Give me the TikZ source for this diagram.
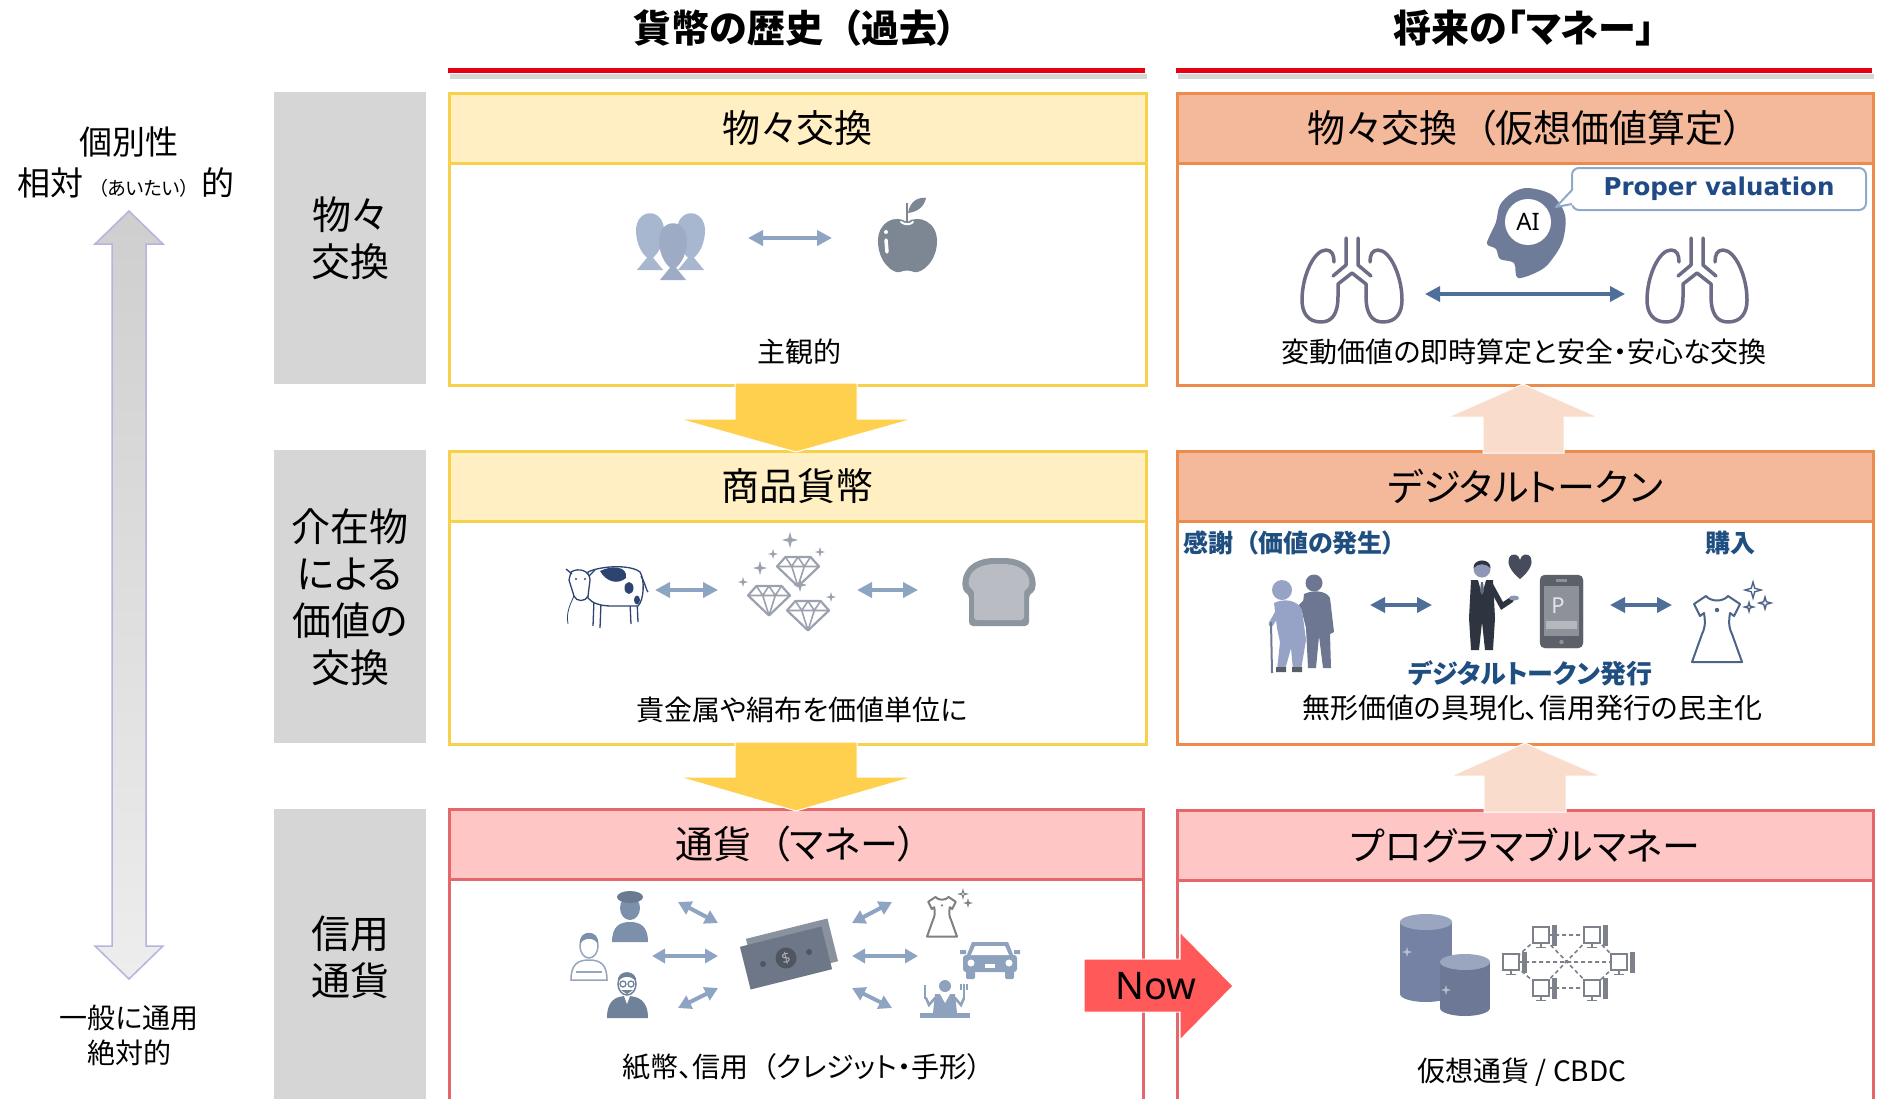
\documentclass[tikz,border=0pt]{standalone}
\usepackage{fontspec}
\setmainfont{Noto Sans CJK JP}[RawFeature=+palt]
\newfontfamily\latinfnt{Noto Sans}
\newfontfamily\dvs{DejaVu Sans}
\usetikzlibrary{arrows.meta,calc}

\newcommand\fsz[1]{\fontsize{#1}{#1}\selectfont}
\newcommand\jlp{\hspace{.5em}（}
\newcommand\jrp{）\hspace{.5em}}

\definecolor{ttlred}{HTML}{E50012}
\definecolor{ylwfill}{HTML}{FFEFC2}
\definecolor{ylwline}{HTML}{F8D14C}
\definecolor{orgfill}{HTML}{F4B99B}
\definecolor{orgline}{HTML}{EC8B4B}
\definecolor{pnkfill}{HTML}{FFC6C6}
\definecolor{pnkline}{HTML}{E4676A}
\definecolor{grybox}{HTML}{D6D6D6}
\definecolor{ylwarr}{HTML}{FFD04E}
\definecolor{pcharr}{HTML}{F9DCCB}
\definecolor{nowred}{HTML}{FF5959}
\definecolor{lblblue}{HTML}{1F4E80}
\definecolor{icnblue}{HTML}{8EA4C3}
\definecolor{arrblue}{HTML}{4E6F99}
\definecolor{fishc}{HTML}{A7B7D0}
\definecolor{applec}{HTML}{7D8794}
\definecolor{headc}{HTML}{6F7C99}
\definecolor{lungc}{HTML}{6C6C86}
\definecolor{calline}{HTML}{8FA9C9}
\definecolor{pvblue}{HTML}{1F4A85}
\definecolor{cowline}{HTML}{2E4470}
\definecolor{diac}{HTML}{9BA1AE}
\definecolor{breado}{HTML}{8D959F}
\definecolor{breadi}{HTML}{B9BDC3}
\definecolor{helpc}{HTML}{6D7791}
\definecolor{oldc}{HTML}{97A3C6}
\definecolor{suitc}{HTML}{2F3540}
\definecolor{skinc}{HTML}{8E98B6}
\definecolor{heartc}{HTML}{464C5B}
\definecolor{phonec}{HTML}{5C6068}
\definecolor{screenc}{HTML}{8D929A}
\definecolor{dressc}{HTML}{4D6487}
\definecolor{peoplec}{HTML}{7C8FAB}
\definecolor{notec}{HTML}{6E7787}
\definecolor{carc}{HTML}{8EA1BD}
\definecolor{coinc}{HTML}{7682A3}
\definecolor{cointop}{HTML}{9AA5C0}
\definecolor{pcline}{HTML}{7D818A}
\definecolor{axisedge}{HTML}{B4B4DE}

\tikzset{
  colbox/.style={draw, line width=2.5pt, fill=white, anchor=north west, inner sep=0pt, minimum width=697pt},
  hdrbox/.style={draw, line width=2.5pt, anchor=north west, inner sep=0pt, minimum width=697pt, minimum height=70pt, font=\fsz{38}},
  sidebox/.style={fill=grybox, anchor=north west, minimum width=152pt, inner sep=0pt},
  sidetxt/.style={font=\fontsize{39}{47}\selectfont, align=center, inner sep=0pt},
  bodytxt/.style={font=\fsz{28}, inner sep=0pt},
  lbltxt/.style={font=\bfseries\fsz{25}, text=lblblue, inner sep=0pt},
  ttltxt/.style={font=\bfseries\fsz{38}, inner sep=0pt},
  sidelbl/.style={font=\fsz{33}, inner sep=0pt},
  xchg/.style={{Triangle[length=15pt,width=15pt]}-{Triangle[length=15pt,width=15pt]}, line width=4pt, draw=icnblue},
  xchgsm/.style={{Triangle[length=13pt,width=14pt]}-{Triangle[length=13pt,width=14pt]}, line width=4pt, draw=icnblue},
  xchgdark/.style={{Triangle[length=15pt,width=15pt]}-{Triangle[length=15pt,width=15pt]}, line width=3.5pt, draw=arrblue},
  fatarrow/.style={draw=white, line width=1pt},
  pcmon/.style={draw=pcline, fill=white, line width=1.2pt, minimum width=16pt, minimum height=16pt, inner sep=0pt},
}

% four-point sparkle: x, y, size, path options
\newcommand\sparkstar[4]{%
  \begin{scope}[shift={(#1,#2)}, scale=#3]
    \path[#4] (0,-1) -- (0.22,-0.22) -- (1,0) -- (0.22,0.22) -- (0,1) -- (-0.22,0.22) -- (-1,0) -- (-0.22,-0.22) -- cycle;
  \end{scope}}

% upright fish silhouette: centre x, top y, colour
\newcommand\fishat[3]{%
  \begin{scope}[shift={(#1,#2)}]
    \fill[#3] (-14,22) .. controls (-15,-3) and (15,-3) .. (14,22) .. controls (13,38) and (6,46) .. (0,50) .. controls (-6,46) and (-13,38) .. (-14,22) -- cycle;
    \fill[#3] (0,44) -- (-13,60) -- (13,60) -- cycle;
  \end{scope}}

% cut gem: centre x, top y, half width
\newcommand\gem[3]{%
  \begin{scope}[shift={(#1,#2)}, scale=#3]
    \filldraw[fill=white, draw=diac, line width=2.2pt, line join=round] (-0.6,0) -- (0.6,0) -- (1,0.45) -- (0,1.4) -- (-1,0.45) -- cycle;
    \draw[diac, line width=1.6pt, line join=round] (-1,0.45) -- (1,0.45) (-0.6,0) -- (-0.3,0.45) -- (0,0) -- (0.3,0.45) -- (0.6,0) (-0.3,0.45) -- (0,1.4) -- (0.3,0.45);
  \end{scope}}

% dress outline: neck x, neck y, scale, colour
\newcommand\dressat[4]{%
  \begin{scope}[shift={(#1,#2)}, scale=#3]
    \filldraw[fill=white, draw=#4, line width=2pt, line join=round] (-11,0) .. controls (-6,6) and (6,6) .. (11,0) -- (23,8) -- (17,20) -- (13,17) .. controls (11,29) and (13,34) .. (15,38) -- (25,66) -- (-25,66) -- (-15,38) .. controls (-13,34) and (-11,29) .. (-13,17) -- (-17,20) -- (-23,8) -- cycle;
    \fill[#4] (0,14) circle (2.2);
  \end{scope}}

% pair of lungs: trachea top centre
\newcommand\lungs[2]{%
  \begin{scope}[shift={(#1,#2)}, color=lungc, line width=3.5pt, line cap=round, line join=round]
    \draw (-6,0) -- (-6,27) -- (-19,38);
    \draw (6,0) -- (6,27) -- (19,38);
    \draw (-14,58) -- (-14,46) -- (0,35) -- (14,46) -- (14,58);
    \draw (-14,58) .. controls (-14,76) and (-20,84) .. (-31,84) .. controls (-44,84) and (-50,75) .. (-50,62) .. controls (-50,38) and (-38,12) .. (-26,12) .. controls (-20,12) and (-18,17) .. (-18,24);
    \draw (14,58) .. controls (14,76) and (20,84) .. (31,84) .. controls (44,84) and (50,75) .. (50,62) .. controls (50,38) and (38,12) .. (26,12) .. controls (20,12) and (18,17) .. (18,24);
  \end{scope}}

% networked computer: name, x, y
\newcommand\pcat[3]{%
  \node[pcmon] (#1) at (#2,#3) {};
  \fill[pcline] ($(#1.north east)+(2,-1)$) rectangle ++(5,21);
  \draw[pcline, line width=1.2pt] (#1.south) -- ++(0,4) ++(-5,0) -- ++(10,0);}

\begin{document}
\begin{tikzpicture}[x=1pt,y=-1pt]
\path[use as bounding box, fill=white] (0,0) rectangle (1881,1098);
\clip (0,0) rectangle (1881,1098);

% ---- column titles ----
\node[ttltxt] (ttlL) at (795,28) {貨幣の歴史\jlp 過去\jrp};
\node[ttltxt] (ttlR) at (1524,28) {将来の「マネー」};
\draw[line width=5pt, black!16] (450,76) -- (1147,76);
\draw[line width=5pt, black!16] (1178,76) -- (1874,76);
\draw[line width=5pt, ttlred] (448,70) -- (1145,70);
\draw[line width=5pt, ttlred] (1176,70) -- (1872,70);

% ---- vertical axis ----
\shadedraw[top color=black!19, bottom color=black!7, draw=axisedge, line width=1.5pt]
  (129,211) -- (163,244) -- (146,244) -- (146,946) -- (163,946) -- (129,979) -- (95,946) -- (112,946) -- (112,244) -- (95,244) -- cycle;
\node[sidelbl] (indiv) at (129,142) {個別性};
\node[sidelbl] (relat) at (126,183) {相対\hspace{5pt}{\fsz{19}\jlp あいたい\jrp}\hspace{2pt}的};
\node[font=\fsz{28}, inner sep=0pt] (general) at (129,1018) {一般に通用};
\node[font=\fsz{28}, inner sep=0pt] (absol) at (129,1053) {絶対的};

% ---- stage labels ----
\node[sidebox, minimum height=292pt] (S1) at (274,92) {};
\node[sidebox, minimum height=293pt] (S2) at (274,450) {};
\node[sidebox, minimum height=300pt] (S3) at (274,809) {};
\node[sidetxt] (S1t) at (350,238) {物々\\交換};
\node[sidetxt] (S2t) at (350,597) {介在物\\による\\価値の\\交換};
\node[sidetxt] (S3t) at (350,957) {信用\\通貨};

% ---- history column ----
\node[colbox, draw=ylwline, minimum height=292pt] (L1) at (448,92) {};
\node[hdrbox, draw=ylwline, fill=ylwfill] (L1h) at (448,92) {物々交換};
\node[colbox, draw=ylwline, minimum height=293pt] (L2) at (448,450) {};
\node[hdrbox, draw=ylwline, fill=ylwfill] (L2h) at (448,450) {商品貨幣};
\node[colbox, draw=pnkline, minimum width=694pt, minimum height=320pt] (L3) at (448,808) {};
\node[hdrbox, draw=pnkline, fill=pnkfill, minimum width=694pt] (L3h) at (448,808) {通貨\jlp マネー\jrp};

% ---- future column ----
\node[colbox, draw=orgline, minimum width=696pt, minimum height=292pt] (R1) at (1176,92) {};
\node[hdrbox, draw=orgline, fill=orgfill, minimum width=696pt] (R1h) at (1176,92) {物々交換\jlp 仮想価値算定\jrp};
\node[colbox, draw=orgline, minimum width=696pt, minimum height=293pt] (R2) at (1176,450) {};
\node[hdrbox, draw=orgline, fill=orgfill, minimum width=696pt] (R2h) at (1176,450) {デジタルトークン};
\node[colbox, draw=pnkline, minimum width=696pt, minimum height=320pt] (R3) at (1176,809) {};
\node[hdrbox, draw=pnkline, fill=pnkfill, minimum width=696pt] (R3h) at (1176,809) {プログラマブルマネー};

% ---- captions ----
\node[bodytxt] (L1b) at (799,352) {主観的};
\node[bodytxt] (R1b) at (1524,352) {変動価値の即時算定と安全・安心な交換};
\node[bodytxt] (L2b) at (802,710) {貴金属や絹布を価値単位に};
\node[bodytxt] (R2b) at (1532,708) {無形価値の具現化、信用発行の民主化};
\node[bodytxt] (L3b) at (802,1067) {紙幣、信用\jlp クレジット・手形\jrp};
\node[bodytxt] (R3b) at (1522,1072) {仮想通貨 / CBDC};

% ---- flow arrows ----
\filldraw[fill=ylwarr, fatarrow] (735,383) -- (857,383) -- (857,419) -- (913,419) -- (796,452) -- (679,419) -- (735,419) -- cycle;
\filldraw[fill=ylwarr, fatarrow] (735,742) -- (857,742) -- (857,777) -- (913,777) -- (796,811) -- (679,777) -- (735,777) -- cycle;
\filldraw[fill=pcharr, fatarrow] (1483,453) -- (1483,417) -- (1448,417) -- (1523,384) -- (1598,417) -- (1564,417) -- (1564,453) -- cycle;
\filldraw[fill=pcharr, fatarrow] (1484,812) -- (1484,776) -- (1451,776) -- (1525,743) -- (1601,776) -- (1566,776) -- (1566,812) -- cycle;

% ---- Now marker ----
\filldraw[fill=nowred, draw=white, line width=1pt] (1084,959) -- (1180,959) -- (1180,932) -- (1233,986) -- (1180,1040) -- (1180,1012) -- (1084,1012) -- cycle;
\node[font=\latinfnt\fsz{38}, inner sep=0pt] (now) at (1156,986) {Now};

% ==== row 1, history: fish <-> apple ====
\fishat{650}{210}{fishc}
\fishat{691}{210}{fishc}
\fishat{673}{220}{fishc!94!black}
\coordinate (x1a) at (748,238);
\coordinate (x1b) at (832,238);
\draw[xchg] (x1a) -- (x1b);
\fill[applec] (907,222) .. controls (895,214) and (878,222) .. (878,241) .. controls (878,262) and (893,274) .. (900,272) .. controls (905,270) and (909,270) .. (914,272) .. controls (921,274) and (937,262) .. (937,241) .. controls (937,222) and (919,214) .. (907,222) -- cycle;
\draw[applec, line width=2.5pt] (907,222) -- (907,203);
\fill[applec] (908,213) .. controls (910,201) and (918,197) .. (926,198) .. controls (924,208) and (916,212) .. (908,213) -- cycle;
\draw[white, line width=2pt, line cap=round] (901,222) .. controls (905,225) and (910,225) .. (913,222);
\draw[white, line width=3.5pt, line cap=round] (886,240) -- (887,252);
\fill[white] (886,232) circle (2);

% ==== row 1, future: AI valuation ====
\fill[headc] plot[smooth cycle, tension=.55] coordinates {(1528,188) (1552,195) (1565,215) (1563,240) (1553,258) (1541,270) (1518,278) (1514,263) (1500,259) (1496,249) (1487,244) (1491,233) (1496,222) (1500,205) (1512,193)};
\node[circle, fill=white, minimum size=46pt, inner sep=0pt, font=\latinfnt\fsz{24}] (ai) at (1528,222) {AI};
\node[draw=calline, line width=2pt, fill=white, rounded corners=7pt, minimum width=294pt, minimum height=42pt, inner sep=0pt, font=\dvs\bfseries\fsz{24.5}, text=pvblue] (pv) at (1719,189) {Proper valuation};
\fill[white] (1574,189) -- (1556,207) -- (1574,205) -- cycle;
\draw[calline, line width=2pt, line join=round] (1572,190) -- (1556,207) -- (1572,204);
\lungs{1352}{238}
\lungs{1697}{238}
\coordinate (x2a) at (1425,294);
\coordinate (x2b) at (1625,294);
\draw[xchgdark] (x2a) -- (x2b);

% ==== row 2, history: cow <-> gems <-> bread ====
\draw[cowline, line width=1.3pt] (594,600) -- (593,626) (601,603) -- (600,628) (630,603) -- (631,624) (637,600) -- (638,622);
\filldraw[fill=white, draw=cowline, line width=1.3pt] (588,572) .. controls (600,566) and (630,564) .. (640,572) .. controls (645,580) and (644,600) .. (638,606) -- (612,606) .. controls (600,606) and (592,603) .. (588,598) -- cycle;
\fill[cowline] (600,571) .. controls (612,565) and (628,566) .. (626,578) .. controls (618,585) and (606,582) .. (600,571) -- cycle;
\fill[cowline] (629,588) ellipse (4.5 and 6);
\fill[cowline] (637,600) ellipse (3 and 4.5);
\filldraw[fill=white, draw=cowline, line width=1.3pt] (571,572) .. controls (579,567) and (590,571) .. (590,580) -- (588,596) .. controls (586,602) and (576,602) .. (574,596) -- (569,580) -- cycle;
\draw[cowline, line width=1.3pt] (572,574) -- (566,569) (589,576) -- (595,570);
\fill[cowline] (576,579) circle (1.2) (585,579) circle (1.2);
\draw[cowline, line width=.8pt] (574,596) .. controls (570,605) and (566,612) .. (568,624);
\draw[cowline, line width=1.3pt] (641,576) .. controls (646,585) and (646,590) .. (648,592);
\coordinate (x3a) at (655,590);
\coordinate (x3b) at (718,590);
\draw[xchg] (x3a) -- (x3b);
\gem{798}{557}{21}
\gem{769}{586}{21}
\gem{808}{601}{21}
\sparkstar{790}{540}{8}{fill=diac}
\sparkstar{773}{554}{5}{fill=diac}
\sparkstar{820}{552}{5}{fill=diac}
\sparkstar{760}{568}{7}{fill=diac}
\sparkstar{743}{582}{5}{fill=diac}
\sparkstar{800}{585}{7}{fill=diac}
\sparkstar{831}{597}{5}{fill=diac}
\coordinate (x4a) at (857,590);
\coordinate (x4b) at (918,590);
\draw[xchg] (x4a) -- (x4b);
\fill[breado, rounded corners=4pt] (969,626) -- (969,594) .. controls (960,590) and (958,558) .. (999,558) .. controls (1040,558) and (1038,590) .. (1029,594) -- (1029,626) -- cycle;
\fill[breadi, rounded corners=3pt] (974,620) -- (974,590) .. controls (966,586) and (966,564) .. (999,564) .. controls (1032,564) and (1032,586) .. (1024,590) -- (1024,620) -- cycle;

% ==== row 2, future: thanks -> token -> purchase ====
\node[lbltxt, anchor=west] (thanks) at (1183,543) {感謝\jlp 価値の発生\jrp};
\node[lbltxt] (buy) at (1730,543) {購入};
\node[lbltxt, font=\bfseries\fsz{26}] (issue) at (1530,673) {デジタルトークン発行};
% helper and elderly person
\fill[helpc] (1314,583) circle (8.5);
\fill[helpc] (1304,594) .. controls (1312,590) and (1326,590) .. (1330,598) -- (1334,632) -- (1330,634) -- (1331,668) -- (1323,668) -- (1319,636) -- (1316,668) -- (1308,668) -- (1306,628) -- (1302,612) -- cycle;
\draw[helpc, line width=6pt, line cap=round] (1308,600) -- (1296,612);
\fill[oldc] (1282,590) circle (10);
\fill[oldc] (1274,603) .. controls (1284,598) and (1298,600) .. (1302,610) -- (1306,640) -- (1301,670) -- (1293,670) -- (1291,648) -- (1285,670) -- (1277,670) -- (1280,642) -- (1277,628) -- cycle;
\draw[oldc, line width=5pt, line cap=round] (1279,610) -- (1271,624);
\draw[oldc!75!black, line width=2pt] (1271,622) -- (1272,673);
\fill[suitc!80] (1276,667) rectangle (1286,672) (1292,667) rectangle (1302,672);
\coordinate (x5a) at (1370,605);
\coordinate (x5b) at (1432,605);
\draw[xchgdark] (x5a) -- (x5b);
% businessman with heart
\fill[skinc] (1482,569) circle (8.5);
\fill[suitc] (1473.5,568) .. controls (1473,558) and (1491,558) .. (1490.5,568) .. controls (1486,563) and (1478,563) .. (1473.5,568) -- cycle;
\fill[suitc] (1471,580) -- (1493,580) -- (1495,618) -- (1493,650) -- (1485,650) -- (1482,622) -- (1479,650) -- (1471,650) -- (1469,618) -- cycle;
\fill[white] (1478,580) -- (1486,580) -- (1482,594) -- cycle;
\fill[skinc!70!black] (1481,582) -- (1483,582) -- (1484,591) -- (1482,595) -- (1480,591) -- cycle;
\draw[suitc, line width=5.5pt, line cap=round] (1491,586) -- (1502,606) -- (1511,600);
\fill[skinc] (1514,598) ellipse (5 and 2.5);
\fill[heartc] (1520,579) .. controls (1510,571) and (1507,563) .. (1509,558) .. controls (1512,552) and (1519,554) .. (1520,560) .. controls (1521,554) and (1528,552) .. (1531,558) .. controls (1533,563) and (1530,571) .. (1520,579) -- cycle;
% phone
\filldraw[fill=phonec, draw=phonec, rounded corners=5pt] (1540,575) rectangle (1583,648);
\fill[screenc] (1544,586) rectangle (1579,636);
\fill[screenc] (1556,579) rectangle (1567,581.5);
\fill[screenc] (1561.5,642) circle (2.2);
\node[font=\latinfnt\bfseries\fsz{22}, text=white!75!screenc, inner sep=0pt] (pt) at (1558,606) {P};
\fill[white!35!screenc] (1546,621) rectangle (1577,629);
\coordinate (x6a) at (1610,605);
\coordinate (x6b) at (1672,605);
\draw[xchgdark] (x6a) -- (x6b);
\dressat{1717}{596}{1}{dressc}
\sparkstar{1753}{590}{8}{draw=dressc, line width=1.4pt, fill=white}
\sparkstar{1765}{603}{6}{draw=dressc, line width=1.4pt, fill=white}
\sparkstar{1749}{607}{4.5}{draw=dressc, line width=1.4pt, fill=white}

% ==== row 3, history: people <-> banknote <-> goods ====
\fill[peoplec] (612,942) .. controls (612,926) and (620,922) .. (630,922) .. controls (640,922) and (648,926) .. (648,942) -- cycle;
\fill[peoplec] (630,908) ellipse (10 and 12);
\fill[peoplec!85!black] (630,897) ellipse (13 and 6);
\filldraw[fill=white, draw=peoplec!80, line width=1.5pt] (571,980) .. controls (571,964) and (578,960) .. (589,960) .. controls (600,960) and (607,964) .. (607,980) -- cycle;
\draw[peoplec!80, line width=1.2pt] (576,972) -- (602,972);
\filldraw[fill=white, draw=peoplec!80, line width=1.5pt] (589,946) ellipse (9 and 12);
\fill[peoplec] (580,944) .. controls (578,929) and (600,929) .. (598,944) .. controls (594,937) and (584,937) .. (580,944) -- cycle;
\fill[peoplec!90!black] (607,1018) .. controls (607,1000) and (616,996) .. (627,996) .. controls (638,996) and (648,1000) .. (648,1018) -- cycle;
\fill[white] (624,996) -- (630,996) -- (627,1004) -- cycle;
\filldraw[fill=white, draw=peoplec!90!black, line width=1.5pt] (627,984) ellipse (9 and 11);
\fill[peoplec!90!black] (618,982) .. controls (616,969) and (638,969) .. (636,982) .. controls (632,975) and (622,975) .. (618,982) -- cycle;
\draw[peoplec!90!black, line width=1.3pt] (623,984) circle (3) (631,984) circle (3);
\fill[peoplec!90!black] (621,990) -- (633,990) -- (627,994) -- cycle;
\coordinate (p1) at (678,902);
\coordinate (p2) at (718,923);
\coordinate (p3) at (652,956);
\coordinate (p4) at (718,956);
\coordinate (p5) at (678,1008);
\coordinate (p6) at (718,988);
\draw[xchgsm] (p1) -- (p2);
\draw[xchgsm] (p3) -- (p4);
\draw[xchgsm] (p5) -- (p6);
\node[fill=notec!80!white, minimum width=84pt, minimum height=44pt, rotate=14, inner sep=0pt] (note2) at (792,950) {};
\node[fill=notec, minimum width=84pt, minimum height=44pt, rotate=14, inner sep=0pt] (note) at (786,958) {};
\fill[notec!72!black] (786,958) circle (10.5);
\node[font=\latinfnt\bfseries\fsz{15}, text=notec!60!white, inner sep=0pt, rotate=14] (dollar) at (786,958) {\$};
\fill[notec!72!black] (763,964) circle (3) (809,952) circle (3);
\coordinate (q1) at (852,923);
\coordinate (q2) at (892,902);
\coordinate (q3) at (852,956);
\coordinate (q4) at (918,956);
\coordinate (q5) at (852,988);
\coordinate (q6) at (892,1008);
\draw[xchgsm] (q1) -- (q2);
\draw[xchgsm] (q3) -- (q4);
\draw[xchgsm] (q5) -- (q6);
\dressat{942}{897}{0.6}{gray}
\sparkstar{963}{894}{4}{draw=gray, line width=1pt}
\sparkstar{968}{903}{3}{draw=gray, line width=1pt}
% car
\fill[carc] (972,942) -- (1008,942) -- (1014,957) -- (966,957) -- cycle;
\fill[carc, rounded corners=3pt] (963,955) rectangle (1017,972);
\fill[white] (975,946) -- (1005,946) -- (1009,955) -- (971,955) -- cycle;
\fill[carc, rounded corners=1.5pt] (966,970) rectangle (975,979) (1005,970) rectangle (1014,979);
\fill[white] (971,963) circle (3.5) (1009,963) circle (3.5);
\fill[white] (985,964) rectangle (995,968);
\fill[carc] (960,950) rectangle (966,954) (1014,950) rectangle (1020,954);
% diner
\fill[carc] (945,986) circle (6);
\fill[carc] (935,994) -- (955,994) -- (957,1013) -- (933,1013) -- cycle;
\fill[white] (940,994) -- (950,994) -- (945,1003) -- cycle;
\draw[carc, line width=2.5pt, line cap=round] (935,998) -- (929,1005) -- (926,998) (955,998) -- (961,1005) -- (964,998);
\draw[carc, line width=2.5pt] (925,999) -- (925,985) (964,999) -- (964,990);
\draw[carc, line width=1.2pt] (961,984) -- (961,990) (964,984) -- (964,990) (967,984) -- (967,990);
\fill[carc] (920,1013) rectangle (970,1018);

% ==== row 3, future: coins and ledger network ====
\fill[coinc] (1400,922) rectangle (1452,994);
\fill[coinc] (1426,994) ellipse (26 and 8);
\fill[cointop] (1426,922) ellipse (26 and 8);
\sparkstar{1407}{952}{5}{fill=white, opacity=.5}
\fill[coinc!92!black] (1440,962) rectangle (1490,1008);
\fill[coinc!92!black] (1465,1008) ellipse (25 and 8);
\fill[cointop] (1465,962) ellipse (25 and 8);
\sparkstar{1446}{990}{5}{fill=white, opacity=.5}
\coordinate (n1) at (1541,935);
\coordinate (n2) at (1592,935);
\coordinate (n3) at (1511,962);
\coordinate (n4) at (1619,962);
\coordinate (n5) at (1541,988);
\coordinate (n6) at (1592,988);
\draw[pcline, line width=1.6pt, dash pattern=on 4pt off 3pt] (n1) -- (n2) (n1) -- (n3) (n2) -- (n4) (n3) -- (n5) (n4) -- (n6) (n5) -- (n6) (n3) -- (n4) (n1) -- (n6) (n2) -- (n5);
\pcat{m1}{1541}{935}
\pcat{m2}{1592}{935}
\pcat{m3}{1511}{962}
\pcat{m4}{1619}{962}
\pcat{m5}{1541}{988}
\pcat{m6}{1592}{988}
\end{tikzpicture}
\end{document}
